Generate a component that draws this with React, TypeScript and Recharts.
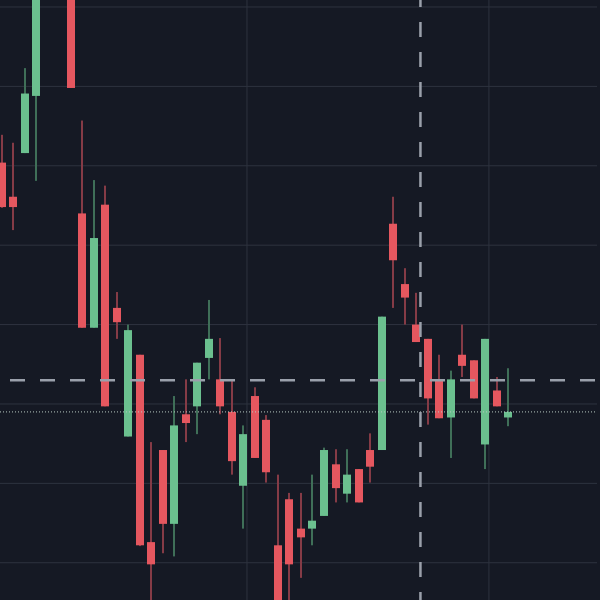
import React from 'react';
import {
  ComposedChart,
  Bar,
  XAxis,
  YAxis,
  CartesianGrid,
  ReferenceLine,
} from 'recharts';

// ------------------------------------------------------------
// candlestick data (one entry per bar)
// ------------------------------------------------------------
const opens = [
  50.04, 49.61, 50.16, 50.88, 52.59, 53.1, 52.47, 49.4, 47.96, 49.51,
  48.21, 46.59, 47.62, 45.26, 46.42, 45.49, 46.87, 46.97, 47.58, 47.31,
  46.9, 45.97, 47.1, 46.8, 45.22, 45.8, 45.43, 45.43, 45.59, 46.24,
  45.87, 46.18, 46.42, 46.42, 49.27, 48.51, 48.0, 47.82, 47.3, 46.83,
  47.62, 47.55, 46.49, 47.17, 46.83,
];
const highs = [
  50.39, 50.29, 51.23, 52.84, 53.3, 53.4, 52.62, 50.57, 49.82, 49.75,
  48.41, 48.0, 47.62, 46.52, 46.42, 47.1, 47.31, 47.52, 48.31, 47.83,
  47.3, 46.73, 47.21, 46.86, 46.11, 45.88, 45.88, 46.11, 46.45, 46.43,
  46.43, 46.18, 46.63, 48.1, 49.61, 48.71, 48.4, 47.82, 47.62, 47.42,
  48.0, 47.55, 47.82, 47.34, 47.45,
];
const lows = [
  49.47, 49.19, 50.16, 49.81, 52.3, 52.4, 50.98, 47.96, 47.96, 46.97,
  47.82, 46.59, 45.21, 44.4, 45.12, 45.08, 46.52, 46.62, 47.31, 46.87,
  46.11, 45.43, 46.32, 46.01, 43.78, 44.4, 44.81, 45.22, 45.59, 45.76,
  45.76, 45.76, 46.01, 46.42, 48.21, 48.0, 47.78, 46.74, 46.82, 46.32,
  47.34, 47.07, 46.18, 46.97, 46.72,
];
const closes = [
  49.48, 49.48, 50.91, 52.59, 53.1, 52.7, 50.98, 47.96, 49.09, 46.97,
  48.03, 47.93, 45.22, 44.98, 45.49, 46.73, 46.76, 47.52, 47.82, 46.97,
  46.28, 46.62, 46.32, 46.14, 44.03, 44.98, 45.32, 45.53, 46.42, 45.94,
  46.11, 45.76, 46.21, 48.1, 48.81, 48.34, 47.78, 47.07, 46.82, 47.31,
  47.48, 47.07, 47.82, 46.97, 46.9,
];

const priceTicks = [45, 46, 47, 48, 49, 50, 51, 52];
const timeTicks = [21.33, 42.35];

// crosshair position (bar index / price) and last price
const crosshairBar = 36.4;
const crosshairPrice = 47.3;
const lastClose = closes[closes.length - 1];

const data = opens.map((open, i) => ({
  i,
  open,
  high: highs[i],
  low: lows[i],
  close: closes[i],
}));

const BG = '#151924';
const GRID = '#2e333f';
const UP = '#6bc08f';
const DOWN = '#e5575f';
const UP_WICK = '#3f6f58';
const DOWN_WICK = '#853b46';
const CROSS = '#9aa0ab';

function Candle(props: any) {
  const { x, y, width, height, payload } = props;
  if (!payload) return null;
  const { open, close, high, low } = payload;
  const top = Math.min(y, y + height);
  const bottom = Math.max(y, y + height);
  const span = high - low || 1;
  const toPx = (v: number) => top + ((high - v) / span) * (bottom - top);
  const cx = Math.round(x + width / 2);
  const up = close >= open;
  const bodyTop = toPx(Math.max(open, close));
  const bodyBot = toPx(Math.min(open, close));
  return (
    <g>
      <rect x={cx - 1} y={top} width={2} height={bottom - top} fill={up ? UP_WICK : DOWN_WICK} />
      <rect
        x={cx - 4}
        y={bodyTop}
        width={8}
        height={Math.max(bodyBot - bodyTop, 1.5)}
        fill={up ? UP : DOWN}
      />
    </g>
  );
}

export default function App() {
  return (
    <div style={{ position: 'absolute', left: 0, top: 0, width: 600, height: 600, background: BG }}>
      <ComposedChart width={600} height={600} data={data} margin={{ top: 0, right: 3, left: 0, bottom: 0 }}>
        <CartesianGrid stroke={GRID} strokeWidth={1} horizontalValues={priceTicks} verticalValues={timeTicks} />
        <XAxis
          type="number"
          dataKey="i"
          domain={[-0.13, 51.74]}
          ticks={timeTicks}
          allowDataOverflow
          hide
        />
        <YAxis domain={[44.531, 52.088]} ticks={priceTicks} allowDataOverflow hide />
        <Bar
          dataKey={(d: any) => [d.low, d.high]}
          barSize={8}
          shape={Candle}
          isAnimationActive={false}
        />
        <ReferenceLine y={lastClose} stroke="#b9c9c1" strokeWidth={1} strokeDasharray="1 2" />
        <ReferenceLine
          y={crosshairPrice}
          stroke={CROSS}
          strokeWidth={2.5}
          strokeDasharray="15 15"
          strokeDashoffset={20}
        />
        <ReferenceLine
          x={crosshairBar}
          stroke={CROSS}
          strokeWidth={2.5}
          strokeDasharray="15 15"
          strokeDashoffset={7}
        />
      </ComposedChart>
    </div>
  );
}
